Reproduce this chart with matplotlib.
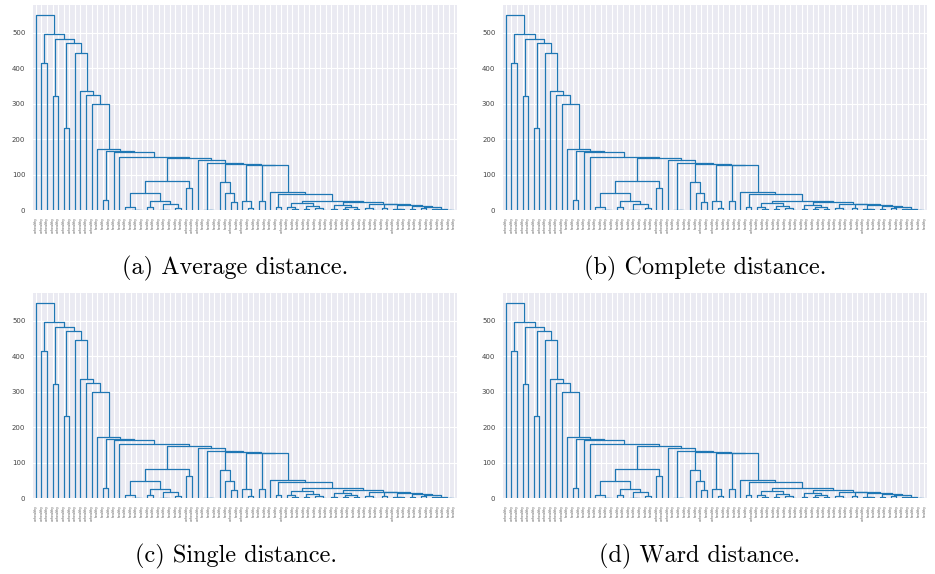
import matplotlib.pyplot as plt
import seaborn as sns

# dendrogram as nested (height, left, right); integers are leaves, numbered left to right
right_part = (27, (19, (8, 45, (2, 46, 47)), (12, (3, 48, 49), (5, 50, (1, 51, 52)))),
              (22, (14, (4, 53, 54), (9, (2, 55, 56), (3, 57, 58))),
               (18, (6, 59, (1, 60, 61)),
                (16, (5, 62, 63),
                 (14, (4, 64, (2, 65, 66)),
                  (11, (3, 67, 68),
                   (8, (5, 69, 70), (4, (2, 71, 72), (1, 73, (0.5, 74, 75))))))))))
mid_part = (140, 29,
            (133, (0.6, 30, (0.3, 31, 32)),
             (131, (78, 33, (49, 34, (22, 35, 36))),
              (128, (26, 37, (6, 38, 39)),
               (126, (26, 40, 41),
                (51, 42, (44, (8, 43, 44), right_part)))))))
left_mid = (83, (47, (9, 16, (1, 17, (0.5, 18, 19))),
                 (25, (9, 20, 21), (18, (0.5, 22, (0.3, 23, 24)), (6, 25, 26)))),
            (63, 27, 28))
rest = (171, 11, (167, (28, 12, 13), (163, 14, (151, 15, (147, left_mid, mid_part)))))
tree = (550, 0, (495, (414, 1, 2),
                 (483, (322, 3, 4),
                  (472, (231, 5, 6),
                   (444, 7, (335, 8, (323, 9, (298, 10, rest))))))))

n_leaves = 76
unhealthy = list(range(11)) + [27, 28, 29, 35, 37, 44, 64]
labels = ['unhealthy' if i in unhealthy else 'healthy' for i in range(n_leaves)]
captions = ['(a) Average distance.', '(b) Complete distance.',
            '(c) Single distance.', '(d) Ward distance.']

sns.set_style('darkgrid')
fig = plt.figure(figsize=(9.35, 5.74), dpi=100)

axes_pos = [[0.0353, 0.634, 0.4535, 0.357], [0.538, 0.634, 0.4535, 0.357],
            [0.0353, 0.1324, 0.4535, 0.357], [0.538, 0.1324, 0.4535, 0.357]]
cap_pos = [(0.251, 0.533), (0.754, 0.533), (0.252, 0.031), (0.748, 0.031)]
color = '#1f77b4'


def draw(ax, node):
    # returns (x, height) of the node and draws its link
    if isinstance(node, int):
        return 5 + 10 * node, 0
    h, left, right = node
    xl, hl = draw(ax, left)
    xr, hr = draw(ax, right)
    ax.plot([xl, xl, xr, xr], [hl, h, h, hr], color=color, lw=0.9)
    return (xl + xr) / 2, h


for i in range(4):
    ax = fig.add_axes(axes_pos[i])
    draw(ax, tree)
    ax.set_xlim(0, 10 * n_leaves)
    ax.set_ylim(0, 550 * 1.05)
    ax.set_xticks([5 + 10 * k for k in range(n_leaves)])
    ax.set_xticklabels(labels, rotation=90, fontsize=2.3, color='#555555')
    ax.set_yticks(range(0, 501, 100))
    ax.tick_params(axis='y', labelsize=5, colors='#444444', pad=2)
    ax.tick_params(axis='x', pad=1.5)
    ax.grid(True, color='white', lw=0.8)
    for s in ax.spines.values():
        s.set_visible(False)
    fig.text(cap_pos[i][0], cap_pos[i][1], captions[i], ha='center', va='center',
             fontsize=17.5, family='cmr10', color='black')

fig.savefig('out.png', dpi=100)
